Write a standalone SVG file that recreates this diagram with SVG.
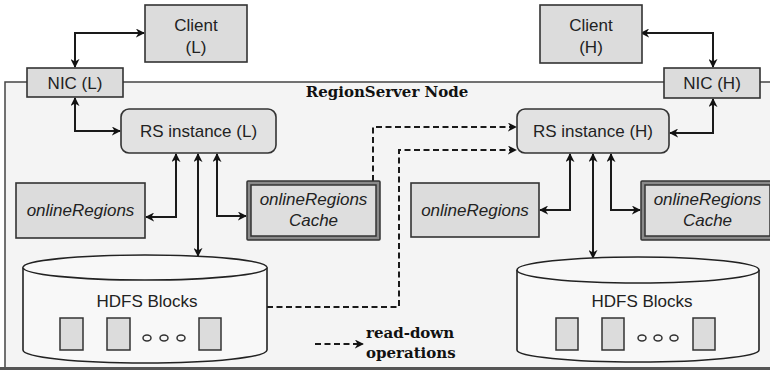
<svg xmlns="http://www.w3.org/2000/svg" width="770" height="370" viewBox="0 0 770 370">
<defs>
<marker id="ah" viewBox="0 0 10 10" refX="9" refY="5" markerWidth="9" markerHeight="9" markerUnits="userSpaceOnUse" orient="auto-start-reverse">
<path d="M0,0 L10,5 L0,10 L3,5 z" fill="#111"/>
</marker>
<style>
.box{fill:#dcdcdc;stroke:#333;stroke-width:1.6}
.rs{fill:#e2e2e2;stroke:#333;stroke-width:1.6}
.cyl{fill:#f8f8f8;stroke:#222;stroke-width:1.6}
.blk{fill:#dcdcdc;stroke:#333;stroke-width:1.5}
.dot{fill:none;stroke:#333;stroke-width:1.5}
.t{font-family:"Liberation Sans",Arial,sans-serif;font-size:17px;fill:#222;text-anchor:middle}
.i{font-style:italic}
.s{font-family:"DejaVu Serif","Liberation Serif",serif;font-weight:bold;font-size:15px;fill:#111}
.c{fill:none;stroke:#1a1a1a;stroke-width:2;marker-start:url(#ah);marker-end:url(#ah)}
.d{fill:none;stroke:#1a1a1a;stroke-width:2;stroke-dasharray:6 3.5;marker-end:url(#ah)}
</style>
</defs>
<rect width="770" height="370" fill="#fff"/>
<g id="container">
<rect x="5" y="82" width="790" height="286" fill="#f4f4f4" stroke="#444" stroke-width="1.5"/>
<line x1="0" y1="368.5" x2="770" y2="368.5" stroke="#555" stroke-width="3"/>
<text class="s" x="387" y="97" text-anchor="middle">RegionServer Node</text>
</g>
<g id="connectors">
<path class="c" d="M144,33 H75 V67"/>
<path class="c" d="M75,98 V131 H120"/>
<path class="c" d="M641,33 H713 V67"/>
<path class="c" d="M713,99 V133 H670"/>
<path class="c" d="M176,154 V217 H146"/>
<path class="c" d="M198,154 V256"/>
<path class="c" d="M217,154 V216 H246"/>
<path class="c" d="M570,154 V210 H540"/>
<path class="c" d="M593,154 V258"/>
<path class="c" d="M611,154 V210 H640"/>
<path class="d" d="M373,181 V127 H516"/>
<path class="d" d="M267,307 H399 V150 H516"/>
<path class="d" d="M315,344 H363"/>
</g>
<g id="client-l">
<rect class="box" x="145" y="5" width="102" height="57"/>
<text class="t" x="196" y="31">Client</text>
<text class="t" x="196" y="53">(L)</text>
</g>
<g id="client-h">
<rect class="box" x="540" y="5" width="102" height="58"/>
<text class="t" x="591" y="31">Client</text>
<text class="t" x="591" y="53">(H)</text>
</g>
<g id="nic-l">
<rect class="box" x="27" y="68" width="96" height="29"/>
<text class="t" x="75" y="89">NIC (L)</text>
</g>
<g id="nic-h">
<rect class="box" x="664" y="68" width="96" height="30"/>
<text class="t" x="712" y="89">NIC (H)</text>
</g>
<g id="rs-l">
<rect class="rs" x="121" y="109" width="155" height="44" rx="8"/>
<text class="t" x="198.5" y="137">RS instance (L)</text>
</g>
<g id="rs-h">
<rect class="rs" x="517" y="109" width="152" height="44" rx="8"/>
<text class="t" x="593" y="137">RS instance (H)</text>
</g>
<g id="online-l">
<rect class="box" x="16" y="183" width="129" height="55"/>
<text class="t i" x="80.5" y="216">onlineRegions</text>
</g>
<g id="online-h">
<rect class="box" x="411" y="183" width="128" height="54"/>
<text class="t i" x="475" y="216">onlineRegions</text>
</g>
<g id="cache-l">
<rect x="247" y="181" width="133" height="59" fill="#8a8a8a" stroke="#333" stroke-width="1.5" rx="1"/>
<rect x="251" y="185" width="125" height="51" fill="#dedede" stroke="#333" stroke-width="1.5"/>
<text class="t i" x="313.5" y="205">onlineRegions</text>
<text class="t i" x="313.5" y="226">Cache</text>
</g>
<g id="cache-h">
<rect x="641" y="181" width="133" height="59" fill="#8a8a8a" stroke="#333" stroke-width="1.5" rx="1"/>
<rect x="645" y="185" width="125" height="51" fill="#dedede" stroke="#333" stroke-width="1.5"/>
<text class="t i" x="707.5" y="205">onlineRegions</text>
<text class="t i" x="707.5" y="226">Cache</text>
</g>
<g id="hdfs-l">
<path class="cyl" d="M23,267.5 A122,12.5 0 0 1 267,267.5 V350 A122,13 0 0 1 23,350 Z"/>
<path class="cyl" fill="none" d="M23,267.5 A122,12.5 0 0 0 267,267.5"/>
<text class="t" x="147" y="307" font-size="18">HDFS Blocks</text>
<rect class="blk" x="60" y="318" width="23" height="32"/>
<rect class="blk" x="107" y="318" width="23" height="32"/>
<rect class="blk" x="199" y="318" width="22" height="32"/>
<ellipse class="dot" cx="147" cy="338" rx="4" ry="3"/>
<ellipse class="dot" cx="164" cy="338" rx="4" ry="3"/>
<ellipse class="dot" cx="181" cy="338" rx="4" ry="3"/>
</g>
<g id="hdfs-h">
<path class="cyl" d="M517,270 A121,13 0 0 1 759,270 V350 A121,12 0 0 1 517,350 Z"/>
<path class="cyl" fill="none" d="M517,270 A121,13 0 0 0 759,270"/>
<text class="t" x="642" y="307" font-size="18">HDFS Blocks</text>
<rect class="blk" x="556" y="318" width="22" height="32"/>
<rect class="blk" x="602" y="318" width="22" height="32"/>
<rect class="blk" x="693" y="318" width="22" height="32"/>
<ellipse class="dot" cx="642" cy="338" rx="4" ry="3"/>
<ellipse class="dot" cx="658" cy="338" rx="4" ry="3"/>
<ellipse class="dot" cx="674" cy="338" rx="4" ry="3"/>
</g>
<g id="legend">
<text class="s" x="366" y="338">read-down</text>
<text class="s" x="366" y="358">operations</text>
</g>
</svg>
